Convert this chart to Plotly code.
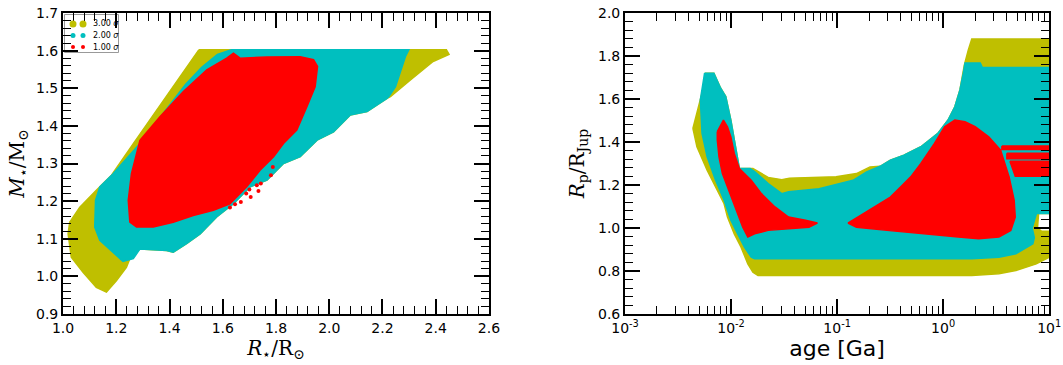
import numpy as np
import plotly.graph_objects as go

# ---------------- data ----------------
# Left panel: stellar radius (R_sun) vs stellar mass (M_sun) confidence regions (outlines)
yellow_left_r = [1.51, 2.44, 2.45, 2.39, 2.305, 2.23, 2.217, 2.142, 2.079, 2.016, 1.954, 1.891, 1.828, 1.766,
                 1.703, 1.640, 1.577, 1.515, 1.464, 1.414, 1.389, 1.289, 1.251, 1.238, 1.201, 1.163, 1.125,
                 1.075, 1.031, 1.019, 1.025, 1.063, 1.125, 1.182, 1.264, 1.326, 1.389, 1.452]
yellow_left_m = [1.602, 1.602, 1.59, 1.571, 1.522, 1.478, 1.473, 1.438, 1.429, 1.384, 1.362, 1.318, 1.300, 1.256,
                 1.238, 1.193, 1.158, 1.113, 1.087, 1.064, 1.069, 1.073, 1.047, 1.024, 0.989, 0.958, 0.971,
                 1.011, 1.051, 1.113, 1.144, 1.184, 1.229, 1.269, 1.353, 1.416, 1.478, 1.544]

cyan_left_r = [1.630, 2.299, 2.286, 2.267, 2.249, 2.224, 2.217, 2.142, 2.079, 2.016, 1.954, 1.891, 1.828, 1.766,
               1.703, 1.640, 1.577, 1.515, 1.464, 1.414, 1.389, 1.289, 1.264, 1.225, 1.188, 1.138, 1.119,
               1.122, 1.138, 1.188, 1.289, 1.345, 1.405, 1.460, 1.520, 1.580]
cyan_left_m = [1.602, 1.602, 1.584, 1.540, 1.504, 1.478, 1.473, 1.438, 1.429, 1.384, 1.362, 1.318, 1.300, 1.256,
               1.238, 1.193, 1.158, 1.113, 1.087, 1.064, 1.069, 1.073, 1.047, 1.040, 1.064, 1.096, 1.131,
               1.202, 1.238, 1.273, 1.353, 1.405, 1.462, 1.510, 1.555, 1.590]

red_left_r = [1.289, 1.364, 1.452, 1.540, 1.615, 1.640, 1.665, 1.766, 1.891, 1.941, 1.956, 1.947, 1.916,
              1.878, 1.828, 1.791, 1.740, 1.690, 1.627, 1.565, 1.489, 1.414, 1.339, 1.276, 1.251, 1.245, 1.257]
red_left_m = [1.362, 1.424, 1.491, 1.549, 1.580, 1.593, 1.580, 1.583, 1.584, 1.576, 1.558, 1.504, 1.451,
              1.389, 1.353, 1.318, 1.282, 1.238, 1.193, 1.176, 1.162, 1.144, 1.131, 1.131, 1.144, 1.202, 1.273]

red_dots_r = [1.627, 1.646, 1.668, 1.688, 1.700, 1.705, 1.728, 1.743, 1.734, 1.781, 1.788, 1.798]
red_dots_m = [1.183, 1.192, 1.198, 1.220, 1.231, 1.211, 1.242, 1.247, 1.227, 1.269, 1.291, 1.336]

# Right panel: log10(age / Ga) vs planet radius (R_Jup) confidence regions (outlines)
yellow_right_logage = [-2.36, -2.29, -2.258, -2.242, -2.162, -2.098, -2.05, -2.002, -1.97, -1.938, -1.922,
                       -1.794, -1.65, -1.522, -1.45, -1.01, -0.818, -0.69, -0.594, -0.498, -0.37, -0.21,
                       -0.05, 0.046, 0.11, 0.158, 0.19, 0.2, 0.238, 0.27, 1.0, 1.0, 0.90, 0.89, 0.93, 1.0,
                       1.0, 0.878, 0.686, 0.526, 0.27, -1.746, -1.794, -1.842, -1.906, -1.97, -2.034,
                       -2.066, -2.146, -2.226, -2.322]
yellow_right_rp = [1.463, 1.596, 1.658, 1.72, 1.72, 1.65, 1.611, 1.502, 1.409, 1.331, 1.277,
                   1.277, 1.235, 1.225, 1.232, 1.238, 1.253, 1.284, 1.287, 1.316, 1.339, 1.378,
                   1.44, 1.502, 1.564, 1.642, 1.72, 1.759, 1.829, 1.879, 1.879, 1.067, 1.067, 1.0, 0.985, 0.985,
                   0.864, 0.833, 0.802, 0.787, 0.779, 0.779, 0.794, 0.833, 0.911, 0.973, 1.051,
                   1.113, 1.191, 1.269, 1.378]

cyan_right_logage = [-2.25, -2.162, -2.098, -2.05, -2.002, -1.97, -1.938, -1.922, -1.82, -1.778, -1.65,
                     -1.522, -1.458, -1.17, -0.85, -0.722, -0.594, -0.498, -0.37, -0.21, -0.05, 0.046,
                     0.11, 0.158, 0.19, 0.206, 0.35, 0.37, 1.0, 1.0, 0.88, 0.84, 0.86, 0.846, 0.686,
                     0.526, 0.27, -1.778, -1.81, -1.874, -1.938, -2.002, -2.066, -2.146, -2.226, -2.274,
                     -2.29, -2.27]
cyan_right_rp = [1.72, 1.72, 1.65, 1.611, 1.502, 1.409, 1.331, 1.277, 1.277, 1.262, 1.207,
                 1.16, 1.169, 1.183, 1.222, 1.261, 1.287, 1.316, 1.339, 1.378, 1.44, 1.502,
                 1.564, 1.642, 1.72, 1.767, 1.767, 1.746, 1.746, 1.067, 1.067, 1.0, 0.955, 0.927, 0.880,
                 0.864, 0.857, 0.857, 0.864, 0.911, 0.973, 1.036, 1.129, 1.222, 1.331, 1.44,
                 1.596, 1.66]

red_right_a_logage = [-2.13, -2.072, -2.034, -2.002, -1.97, -1.922, -1.81, -1.714, -1.586, -1.458, -1.298,
                      -1.186, -1.266, -1.426, -1.65, -1.778, -1.842, -1.89, -1.938, -2.002, -2.082, -2.114,
                      -2.13]
red_right_a_rp = [1.448, 1.502, 1.471, 1.424, 1.347, 1.277, 1.222, 1.16, 1.098, 1.051, 1.036,
                  1.023, 1.004, 0.997, 0.989, 0.973, 0.958, 1.004, 1.067, 1.144, 1.253, 1.331,
                  1.409]

red_right_b_logage = [-0.898, -0.754, -0.594, -0.498, -0.402, -0.306, -0.21, -0.082, 0.014, 0.11, 0.206,
                      0.302, 0.43, 0.542, 0.622, 0.67, 0.68, 0.638, 0.526, 0.334, 0.142, -0.21, -0.53,
                      -0.818]
red_right_b_rp = [1.023, 1.067, 1.113, 1.144, 1.191, 1.238, 1.300, 1.393, 1.471, 1.502, 1.494,
                  1.471, 1.424, 1.362, 1.238, 1.129, 1.051, 0.989, 0.958, 0.950, 0.958, 0.973, 0.989,
                  1.004]

red_stripe1_logage = [0.554, 1.0, 1.0, 0.554]
red_stripe1_rp = [1.381, 1.381, 1.365, 1.365]
red_stripe2_logage = [0.601, 1.0, 1.0, 0.601]
red_stripe2_rp = [1.348, 1.348, 1.322, 1.322]
red_stripe3_logage = [0.63, 1.0, 1.0, 0.68]
red_stripe3_rp = [1.311, 1.311, 1.241, 1.241]

legend_labels = ["3.00 <i>σ</i>", "2.00 <i>σ</i>", "1.00 <i>σ</i>"]

age_tickvals = [0.001, 0.01, 0.1, 1, 10]
age_ticktext = ["10<sup>-3</sup>", "10<sup>-2</sup>", "10<sup>-1</sup>", "10<sup>0</sup>", "10<sup>1</sup>"]

# ---------------- styling ----------------
YEL = "#bfbf00"
CYA = "#00bfbf"
RED = "#ff0000"

fig = go.Figure()


def poly(x, y, color, xa, ya):
    fig.add_trace(go.Scatter(x=list(x) + [x[0]], y=list(y) + [y[0]], mode="lines", fill="toself",
                             fillcolor=color, line=dict(color=color, width=1.5),
                             showlegend=False, hoverinfo="skip", xaxis=xa, yaxis=ya))


poly(yellow_left_r, yellow_left_m, YEL, "x", "y")
poly(cyan_left_r, cyan_left_m, CYA, "x", "y")
poly(red_left_r, red_left_m, RED, "x", "y")
fig.add_trace(go.Scatter(x=red_dots_r, y=red_dots_m, mode="markers",
                         marker=dict(color=RED, size=4), showlegend=False, hoverinfo="skip",
                         xaxis="x", yaxis="y"))


def ages(logs):
    return list(np.power(10.0, np.array(logs)))


poly(ages(yellow_right_logage), yellow_right_rp, YEL, "x2", "y2")
poly(ages(cyan_right_logage), cyan_right_rp, CYA, "x2", "y2")
poly(ages(red_right_a_logage), red_right_a_rp, RED, "x2", "y2")
poly(ages(red_right_b_logage), red_right_b_rp, RED, "x2", "y2")
poly(ages(red_stripe1_logage), red_stripe1_rp, RED, "x2", "y2")
poly(ages(red_stripe2_logage), red_stripe2_rp, RED, "x2", "y2")
poly(ages(red_stripe3_logage), red_stripe3_rp, RED, "x2", "y2")

# ---------------- hand-made legend (matplotlib style, two symbols per entry) ----------------
W, H = 1063, 365
LEG_W, LEG_H = 55, 39          # legend box size, px (legend axis units = px)
LEG_X0, LEG_Y0 = 64, 14        # top-left corner of the legend box, px
fig.add_shape(type="rect", xref="paper", yref="paper",
              x0=(LEG_X0 + 0.5) / W, x1=(LEG_X0 + LEG_W - 0.5) / W,
              y0=1 - (LEG_Y0 + LEG_H - 0.5) / H, y1=1 - (LEG_Y0 + 0.5) / H,
              line=dict(color="#999999", width=1), fillcolor="white", layer="below")
sym_x = [9, 19]
txt_x = 27
row_off = [10, 21.5, 33]       # row centre offsets from the box top, px
sym_sizes = [7, 5, 4]
for lab, col, sz, ro in zip(legend_labels, [YEL, CYA, RED], sym_sizes, row_off):
    fig.add_trace(go.Scatter(x=sym_x, y=[LEG_H - ro, LEG_H - ro], mode="markers",
                             marker=dict(color=col, size=sz),
                             showlegend=False, hoverinfo="skip", xaxis="x3", yaxis="y3"))
    fig.add_annotation(x=(LEG_X0 + txt_x) / W, y=1 - (LEG_Y0 + ro) / H, xref="paper", yref="paper",
                       text=lab, showarrow=False, xanchor="left", yanchor="middle",
                       font=dict(family="DejaVu Sans", size=8, color="black"))

tickfont = dict(family="DejaVu Sans", size=14, color="black")
common = dict(showline=True, linewidth=2, linecolor="black", mirror="allticks", ticks="inside",
              ticklen=15, tickwidth=1.5, tickcolor="black", showgrid=False, zeroline=False,
              tickfont=tickfont, automargin=False)
minor_common = dict(ticks="inside", ticklen=8, tickwidth=1, tickcolor="black", showgrid=False)

fig.update_layout(
    width=W, height=H, margin=dict(l=0, r=0, t=0, b=0, autoexpand=False),
    paper_bgcolor="white", plot_bgcolor="rgba(0,0,0,0)",
    xaxis=dict(domain=[0.0593, 0.460], range=[1.0, 2.6], tick0=1.0, dtick=0.2, tickformat=".1f",
               minor=dict(dtick=0.04, tick0=1.0, **minor_common),
               title=dict(text="<i>R</i><sub>⋆</sub>/R<sub>⊙</sub>",
                          font=dict(family="DejaVu Serif", size=20, color="black"), standoff=4),
               anchor="y", **common),
    yaxis=dict(domain=[0.1397, 0.9644], range=[0.9, 1.7], tick0=0.9, dtick=0.1, tickformat=".1f",
               minor=dict(dtick=0.02, tick0=0.9, **minor_common),
               title=dict(text="<i>M</i><sub>⋆</sub>/M<sub>⊙</sub>",
                          font=dict(family="DejaVu Serif", size=20, color="black"), standoff=6),
               anchor="x", **common),
    xaxis2=dict(domain=[0.588, 0.987], type="log", range=[-3, 1],
                tickmode="array", tickvals=age_tickvals, ticktext=age_ticktext,
                minor=dict(dtick="D1", **minor_common),
                title=dict(text="age [Ga]", font=dict(family="DejaVu Sans", size=22, color="black"),
                           standoff=2),
                anchor="y2", **common),
    yaxis2=dict(domain=[0.1397, 0.9644], range=[0.6, 2.0], tick0=0.6, dtick=0.2, tickformat=".1f",
                minor=dict(dtick=0.04, tick0=0.6, **minor_common),
                title=dict(text="<i>R</i><sub>p</sub>/R<sub>Jup</sub>",
                           font=dict(family="DejaVu Serif", size=20, color="black"), standoff=8),
                anchor="x2", **common),
    xaxis3=dict(domain=[LEG_X0 / W, (LEG_X0 + LEG_W) / W], range=[0, LEG_W], autorange=False,
                visible=False, fixedrange=True, anchor="y3"),
    yaxis3=dict(domain=[1 - (LEG_Y0 + LEG_H) / H, 1 - LEG_Y0 / H], range=[0, LEG_H], autorange=False,
                visible=False, fixedrange=True, anchor="x3"),
    showlegend=False,
)

fig.write_html("out.html", config={"displayModeBar": False},
               post_script="document.body.style.margin='0';")
